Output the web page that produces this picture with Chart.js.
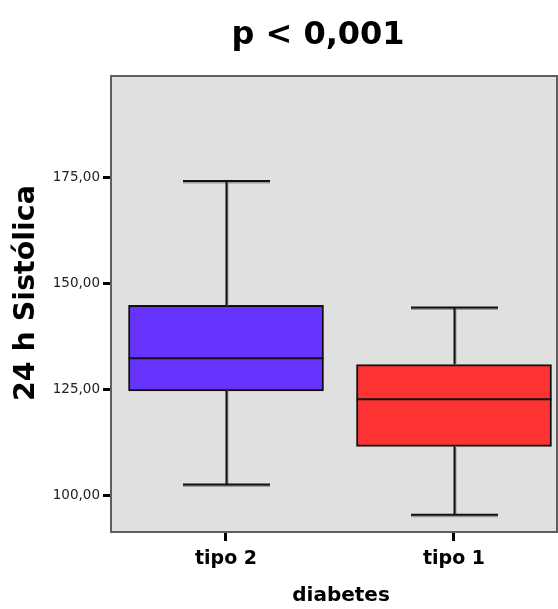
<!DOCTYPE html>
<html>
<head>
<meta charset="utf-8">
<script src="https://cdn.jsdelivr.net/npm/chart.js@4"></script>
<style>
  html, body { margin: 0; padding: 0; background: #fff; }
  #box { width: 558px; height: 609px; }
</style>
</head>
<body>
<div id="box"><canvas id="bpChart" width="558" height="609"></canvas></div>
<script>
// boxplot data
const categories = ['tipo 2', 'tipo 1'];
const whiskerLow = [102.6, 95.4];
const q1 = [124.7, 111.6];
const median = [132.4, 122.7];
const q3 = [144.9, 130.9];
const whiskerHigh = [174.3, 144.4];
const yTicks = [100, 125, 150, 175];
const boxColors = ['#6633ff', '#ff3333'];

const chartTitle = 'p < 0,001';
const xTitle = 'diabetes';
const yTitle = '24 h Sistólica';

// whiskers, medians, frame and titles drawn on top of the floating bars
const boxplotExtras = {
    id: 'boxplotExtras',
    beforeDraw(chart) {
        const { ctx, chartArea: a } = chart;
        ctx.save();
        ctx.fillStyle = '#e0e0e0';
        ctx.fillRect(a.left, a.top, a.right - a.left, a.bottom - a.top);
        ctx.restore();
    },
    afterDatasetsDraw(chart) {
        const { ctx } = chart;
        const xs = chart.scales.x, ys = chart.scales.y;
        const meta = chart.getDatasetMeta(0);
        const capHalf = 43.5;
        ctx.save();
        categories.forEach((c, i) => {
            const x = Math.round(xs.getPixelForValue(i + 1)) + 0.5;
            const yHi = ys.getPixelForValue(whiskerHigh[i]);
            const yLo = ys.getPixelForValue(whiskerLow[i]);
            const yQ3 = ys.getPixelForValue(q3[i]);
            const yQ1 = ys.getPixelForValue(q1[i]);
            const yMed = ys.getPixelForValue(median[i]);
            const bar = meta.data[i];
            const half = bar.width / 2;
            // soft shadow
            ctx.strokeStyle = '#9a9a9a';
            ctx.lineWidth = 2;
            ctx.beginPath();
            ctx.moveTo(x + 1, yHi); ctx.lineTo(x + 1, yQ3);
            ctx.moveTo(x + 1, yQ1); ctx.lineTo(x + 1, yLo);
            ctx.moveTo(x - capHalf, yHi + 1.5); ctx.lineTo(x + capHalf, yHi + 1.5);
            ctx.moveTo(x - capHalf, yLo + 1.5); ctx.lineTo(x + capHalf, yLo + 1.5);
            ctx.stroke();
            ctx.strokeStyle = '#111';
            ctx.beginPath();
            ctx.moveTo(x, yHi); ctx.lineTo(x, yQ3);
            ctx.moveTo(x, yQ1); ctx.lineTo(x, yLo);
            ctx.moveTo(x - capHalf, yHi); ctx.lineTo(x + capHalf, yHi);
            ctx.moveTo(x - capHalf, yLo); ctx.lineTo(x + capHalf, yLo);
            ctx.moveTo(bar.x - half, yMed); ctx.lineTo(bar.x + half, yMed);
            ctx.stroke();
        });
        ctx.restore();
    },
    afterDraw(chart) {
        const { ctx, chartArea: a } = chart;
        ctx.save();
        ctx.strokeStyle = '#5e5e5e';
        ctx.lineWidth = 2;
        ctx.strokeRect(a.left, a.top, a.right - a.left, a.bottom - a.top);
        ctx.fillStyle = '#000';
        ctx.textAlign = 'center';
        ctx.textBaseline = 'alphabetic';
        ctx.font = 'bold 32px "DejaVu Sans"';
        ctx.fillText(chartTitle, 318, 43.5);
        ctx.font = 'bold 20px "DejaVu Sans"';
        ctx.fillText(xTitle, 341, 601);
        ctx.translate(34, 293);
        ctx.rotate(-Math.PI / 2);
        ctx.font = 'bold 28.5px "DejaVu Sans"';
        ctx.fillText(yTitle, 0, 0);
        ctx.restore();
    }
};

const ctxBP = document.getElementById('bpChart').getContext('2d');
const bpChart = new Chart(ctxBP, {
    type: 'bar',
    data: {
        datasets: [{
            data: categories.map((c, i) => ({ x: i + 1, y: [q1[i], q3[i]] })),
            backgroundColor: boxColors,
            borderColor: '#111',
            borderWidth: 2,
            borderSkipped: false,
            barThickness: 195
        }]
    },
    options: {
        responsive: false,
        animation: false,
        layout: { padding: { top: 76, right: 1, left: 0, bottom: 0 } },
        plugins: { legend: { display: false }, tooltip: { enabled: false } },
        scales: {
            x: {
                type: 'linear',
                offset: false,
                min: 0.4956,
                max: 2.4518,
                afterBuildTicks: s => { s.ticks = categories.map((c, i) => ({ value: i + 1 })); },
                afterFit: s => { s.height = 77; },
                border: { display: false },
                grid: { offset: false, drawOnChartArea: false, tickLength: 9, tickWidth: 3, tickColor: '#000' },
                ticks: {
                    callback: v => categories[Math.round(v) - 1],
                    color: '#000',
                    padding: 7,
                    maxRotation: 0,
                    font: { family: 'DejaVu Sans', size: 19, weight: 'bold' }
                }
            },
            y: {
                min: 91.35,
                max: 199.1,
                afterBuildTicks: s => { s.ticks = yTicks.map(v => ({ value: v })); },
                afterFit: s => { s.width = 111; },
                border: { display: false },
                grid: { drawOnChartArea: false, tickLength: 8, tickWidth: 3, tickColor: '#000' },
                ticks: {
                    callback: v => v.toFixed(2).replace('.', ','),
                    color: '#222',
                    padding: 3,
                    font: { family: 'DejaVu Sans', size: 13.5 }
                }
            }
        }
    },
    plugins: [boxplotExtras]
});
</script>
</body>
</html>
